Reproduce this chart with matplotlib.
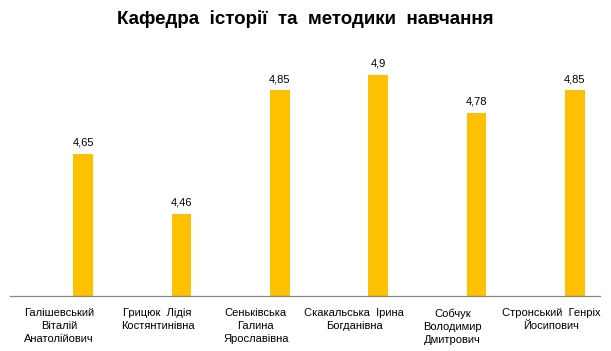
import numpy as np
import matplotlib.pyplot as plt
from matplotlib import font_manager

names = ['Галішевський\nВіталій\nАнатолійович',
         'Грицюк  Лідія\nКостянтинівна',
         'Сеньківська\nГалина\nЯрославівна',
         'Скакальська  Ірина\nБогданівна',
         'Собчук\nВолодимир\nДмитрович',
         'Стронський  Генріх\nЙосипович']
scores = [4.65, 4.46, 4.85, 4.9, 4.78, 4.85]
score_labels = ['4,65', '4,46', '4,85', '4,9', '4,78', '4,85']

avail = {f.name for f in font_manager.fontManager.ttflist}
if 'Liberation Sans Narrow' in avail:
    title_font, title_size = 'Liberation Sans Narrow', 15.5
else:
    title_font, title_size = 'Liberation Sans', 13.5

plt.rcParams['font.family'] = ['Liberation Sans', 'DejaVu Sans']

fig = plt.figure(figsize=(6.11, 3.51), dpi=100)
ax = fig.add_axes([10/611, 1 - 296/351, 590/611, (296 - 43)/351])

x = np.arange(len(names))
offset = 0.245
ax.bar(x + offset, scores, width=0.2, color='#FFC000', zorder=2)
for xi, v, lab in zip(x, scores, score_labels):
    ax.text(xi + offset, v + 0.02, lab, ha='center', va='bottom', fontsize=8)

ax.set_xlim(-0.5, len(names) - 0.5)
ax.set_ylim(4.2, 5.0)
ax.set_yticks([])
ax.set_xticks(x)
ax.set_xticklabels(names, fontsize=8, linespacing=1.35)
ax.tick_params(axis='x', length=0, pad=9)
for s in ['top', 'right', 'left']:
    ax.spines[s].set_visible(False)
ax.spines['bottom'].set_color('#868686')
ax.spines['bottom'].set_linewidth(0.9)

fig.text(0.5, 1 - 19/351, 'Кафедра  історії  та  методики  навчання',
         ha='center', va='center', fontsize=title_size, fontweight='bold',
         family=[title_font, 'DejaVu Sans'])

fig.savefig('out.png', dpi=100)
